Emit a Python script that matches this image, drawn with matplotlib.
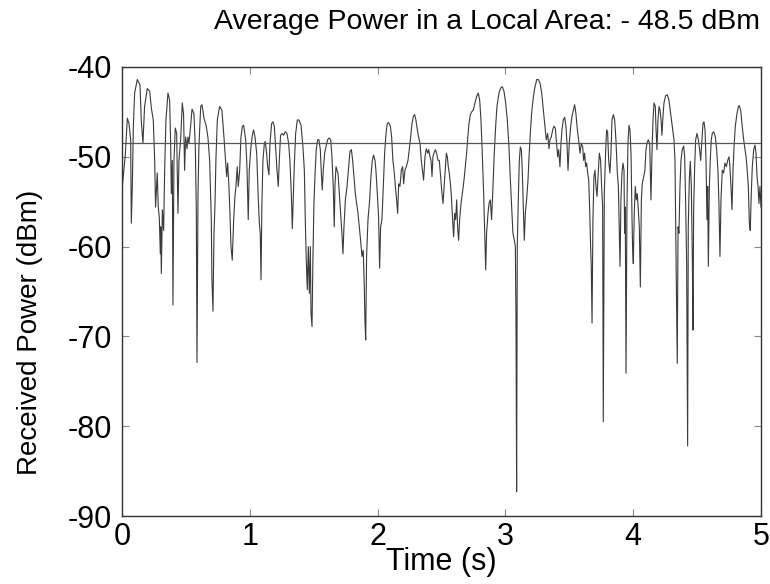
import matplotlib
matplotlib.use("Agg")
import matplotlib.pyplot as plt

# readings: time (s) and received power (dBm)
time_s = [
    0.000, 0.026, 0.042, 0.055, 0.068, 0.073, 0.081, 0.089, 0.099, 0.120,
    0.141, 0.151, 0.164, 0.177, 0.198, 0.217, 0.230, 0.245, 0.256, 0.263,
    0.276, 0.284, 0.292, 0.300, 0.303, 0.308, 0.316, 0.326, 0.334, 0.344,
    0.360, 0.373, 0.381, 0.386, 0.394, 0.399, 0.407, 0.417, 0.428, 0.438,
    0.446, 0.459, 0.472, 0.482, 0.490, 0.498, 0.509, 0.516, 0.524, 0.537,
    0.548, 0.563, 0.574, 0.582, 0.587, 0.595, 0.602, 0.616, 0.626, 0.642,
    0.660, 0.673, 0.686, 0.699, 0.704, 0.712, 0.720, 0.728, 0.735, 0.746,
    0.764, 0.782, 0.798, 0.819, 0.827, 0.837, 0.845, 0.853, 0.863, 0.874,
    0.884, 0.892, 0.902, 0.910, 0.921, 0.931, 0.942, 0.952, 0.968, 0.978,
    0.988, 0.996, 1.009, 1.020, 1.030, 1.041, 1.054, 1.067, 1.075, 1.082,
    1.088, 1.095, 1.103, 1.114, 1.121, 1.132, 1.140, 1.150, 1.158, 1.171,
    1.181, 1.192, 1.202, 1.213, 1.223, 1.231, 1.241, 1.254, 1.265, 1.278,
    1.291, 1.304, 1.314, 1.325, 1.333, 1.341, 1.348, 1.359, 1.372, 1.385,
    1.401, 1.416, 1.427, 1.434, 1.442, 1.450, 1.458, 1.466, 1.474, 1.479,
    1.487, 1.494, 1.502, 1.510, 1.520, 1.531, 1.541, 1.552, 1.560, 1.567,
    1.575, 1.586, 1.596, 1.609, 1.622, 1.633, 1.643, 1.654, 1.661, 1.667,
    1.675, 1.682, 1.690, 1.701, 1.711, 1.721, 1.729, 1.737, 1.748, 1.761,
    1.774, 1.784, 1.795, 1.805, 1.815, 1.826, 1.836, 1.847, 1.857, 1.867,
    1.878, 1.888, 1.896, 1.901, 1.907, 1.914, 1.925, 1.938, 1.948, 1.959,
    1.969, 1.980, 1.987, 1.998, 2.008, 2.016, 2.024, 2.034, 2.045, 2.055,
    2.066, 2.076, 2.087, 2.100, 2.110, 2.120, 2.131, 2.139, 2.149, 2.157,
    2.165, 2.175, 2.186, 2.196, 2.204, 2.214, 2.225, 2.238, 2.248, 2.259,
    2.269, 2.280, 2.290, 2.300, 2.311, 2.321, 2.332, 2.342, 2.353, 2.360,
    2.371, 2.381, 2.392, 2.400, 2.410, 2.418, 2.426, 2.433, 2.441, 2.452,
    2.462, 2.473, 2.483, 2.493, 2.504, 2.512, 2.538, 2.546, 2.553, 2.561,
    2.572, 2.579, 2.587, 2.595, 2.603, 2.611, 2.619, 2.626, 2.634, 2.642,
    2.653, 2.663, 2.673, 2.684, 2.694, 2.705, 2.715, 2.726, 2.736, 2.749,
    2.762, 2.775, 2.788, 2.799, 2.809, 2.819, 2.830, 2.838, 2.846, 2.853,
    2.864, 2.872, 2.882, 2.892, 2.903, 2.913, 2.924, 2.934, 2.950, 2.965,
    2.976, 2.989, 3.002, 3.015, 3.028, 3.039, 3.049, 3.059, 3.070, 3.078,
    3.083, 3.088, 3.093, 3.101, 3.109, 3.117, 3.125, 3.132, 3.140, 3.148,
    3.156, 3.166, 3.177, 3.185, 3.195, 3.205, 3.216, 3.229, 3.245, 3.258,
    3.271, 3.284, 3.297, 3.310, 3.320, 3.331, 3.341, 3.349, 3.359, 3.370,
    3.380, 3.391, 3.401, 3.409, 3.417, 3.427, 3.435, 3.443, 3.453, 3.464,
    3.474, 3.482, 3.490, 3.500, 3.511, 3.521, 3.532, 3.542, 3.552, 3.563,
    3.573, 3.584, 3.594, 3.605, 3.612, 3.620, 3.628, 3.636, 3.644, 3.652,
    3.659, 3.667, 3.672, 3.678, 3.685, 3.693, 3.701, 3.709, 3.717, 3.725,
    3.735, 3.745, 3.753, 3.761, 3.766, 3.774, 3.785, 3.792, 3.800, 3.808,
    3.818, 3.826, 3.834, 3.845, 3.855, 3.865, 3.876, 3.884, 3.891, 3.897,
    3.904, 3.912, 3.920, 3.928, 3.933, 3.938, 3.944, 3.951, 3.959, 3.967,
    3.975, 3.983, 3.991, 3.996, 4.001, 4.009, 4.017, 4.024, 4.032, 4.040,
    4.048, 4.056, 4.064, 4.071, 4.082, 4.092, 4.100, 4.108, 4.118, 4.129,
    4.139, 4.147, 4.155, 4.163, 4.173, 4.178, 4.186, 4.194, 4.202, 4.210,
    4.218, 4.225, 4.233, 4.241, 4.254, 4.267, 4.280, 4.293, 4.306, 4.319,
    4.327, 4.332, 4.337, 4.345, 4.351, 4.358, 4.366, 4.374, 4.384, 4.395,
    4.403, 4.410, 4.418, 4.426, 4.431, 4.439, 4.447, 4.455, 4.463, 4.468,
    4.473, 4.481, 4.489, 4.499, 4.510, 4.520, 4.528, 4.536, 4.546, 4.554,
    4.562, 4.570, 4.577, 4.583, 4.588, 4.596, 4.603, 4.611, 4.619, 4.630,
    4.643, 4.653, 4.663, 4.671, 4.679, 4.687, 4.697, 4.708, 4.718, 4.729,
    4.739, 4.750, 4.757, 4.765, 4.773, 4.781, 4.789, 4.799, 4.812, 4.823,
    4.830, 4.841, 4.851, 4.862, 4.872, 4.883, 4.890, 4.901, 4.909, 4.916,
    4.924, 4.932, 4.943, 4.953, 4.961, 4.969, 4.977, 4.984, 4.992, 5.000,
]
power_dbm = [
    -53.7, -49.8, -45.7, -46.3, -48.1, -57.4, -53.3, -46.6, -42.9, -41.4,
    -42.0, -45.9, -48.5, -44.4, -42.4, -42.7, -44.6, -45.9, -50.4, -55.6,
    -51.8, -55.6, -56.7, -60.8, -57.8, -63.0, -55.9, -58.2, -51.5, -45.9,
    -42.9, -43.7, -48.5, -54.1, -50.4, -66.5, -50.4, -46.8, -47.4, -56.3,
    -50.4, -48.1, -44.0, -45.3, -51.5, -47.8, -49.1, -47.8, -48.5, -46.6,
    -44.7, -45.2, -48.9, -56.3, -72.9, -54.1, -48.9, -44.4, -44.2, -45.7,
    -46.6, -47.9, -50.4, -57.0, -63.7, -67.2, -58.5, -55.2, -50.4, -45.9,
    -44.4, -44.8, -47.8, -52.2, -50.7, -53.3, -56.3, -60.0, -61.5, -57.0,
    -54.4, -53.3, -51.1, -53.3, -51.5, -47.8, -46.6, -46.5, -48.1, -51.1,
    -57.0, -51.5, -48.9, -47.6, -47.0, -47.8, -49.6, -54.8, -57.4, -58.5,
    -63.7, -55.2, -50.4, -48.5, -48.3, -49.6, -51.1, -52.0, -48.5, -46.3,
    -46.1, -46.6, -48.9, -51.5, -53.3, -50.4, -47.6, -47.4, -47.6, -47.2,
    -47.4, -48.5, -50.4, -54.1, -58.0, -54.1, -51.1, -47.4, -45.9, -45.9,
    -46.5, -48.9, -51.5, -56.7, -61.5, -64.8, -60.0, -65.2, -60.0, -67.4,
    -68.9, -61.5, -55.2, -52.2, -49.2, -48.1, -48.1, -49.2, -51.8, -53.7,
    -51.5, -49.6, -48.9, -48.1, -47.9, -48.1, -50.0, -53.7, -57.8, -53.0,
    -51.1, -51.5, -51.8, -54.1, -56.3, -58.5, -60.8, -57.8, -54.8, -53.3,
    -51.1, -49.4, -49.2, -50.4, -52.2, -54.1, -55.2, -56.3, -57.8, -59.3,
    -61.1, -60.4, -64.5, -68.2, -70.4, -61.1, -57.0, -54.8, -52.2, -50.4,
    -49.8, -50.4, -51.5, -54.1, -56.7, -62.4, -57.8, -57.0, -53.3, -49.6,
    -47.4, -46.3, -46.2, -46.6, -47.8, -50.4, -51.8, -53.3, -54.8, -56.3,
    -53.0, -53.3, -51.5, -51.1, -53.0, -51.5, -51.1, -50.4, -49.2, -47.8,
    -46.3, -45.5, -45.3, -45.9, -47.0, -47.8, -48.5, -50.4, -51.8, -52.6,
    -50.0, -49.1, -49.6, -49.2, -50.0, -50.4, -52.2, -50.0, -49.6, -49.2,
    -49.6, -50.4, -50.4, -52.2, -54.1, -55.2, -49.6, -50.0, -51.1, -51.8,
    -53.3, -54.8, -57.0, -58.9, -56.3, -57.0, -54.8, -57.8, -59.3, -57.0,
    -55.2, -54.1, -53.0, -51.5, -50.0, -48.1, -46.3, -45.3, -45.0, -44.8,
    -44.0, -43.3, -42.9, -43.7, -45.9, -49.6, -54.1, -58.5, -62.6, -58.5,
    -56.3, -55.2, -54.8, -57.0, -53.3, -49.6, -46.6, -44.4, -42.9, -42.3,
    -42.2, -42.7, -44.0, -45.9, -48.9, -52.6, -55.6, -58.5, -59.3, -60.0,
    -68.2, -87.3, -60.0, -54.8, -50.4, -48.9, -49.2, -51.5, -55.6, -59.3,
    -56.3, -54.8, -52.6, -50.0, -47.4, -45.2, -43.7, -42.4, -41.4, -41.4,
    -41.8, -42.9, -44.8, -46.6, -48.1, -47.4, -49.1, -48.1, -47.8, -47.0,
    -46.6, -46.8, -48.5, -50.0, -49.2, -51.1, -48.5, -47.0, -45.9, -45.6,
    -46.6, -48.5, -51.5, -48.5, -46.6, -45.5, -44.8, -44.2, -45.2, -47.0,
    -48.1, -49.6, -48.5, -48.9, -50.4, -49.6, -51.1, -50.7, -51.8, -52.6,
    -55.6, -60.0, -62.2, -68.5, -57.0, -52.2, -51.5, -53.3, -54.4, -52.2,
    -49.6, -50.4, -53.3, -55.6, -79.5, -54.1, -49.2, -47.0, -47.2, -50.4,
    -51.8, -49.6, -45.9, -45.3, -45.9, -48.1, -51.8, -53.3, -57.8, -62.2,
    -54.8, -51.8, -50.7, -51.5, -58.5, -55.6, -74.1, -55.9, -48.5, -46.5,
    -47.0, -49.6, -57.0, -60.4, -61.9, -55.9, -53.3, -54.8, -54.1, -55.9,
    -57.8, -64.5, -54.8, -53.0, -52.2, -51.5, -49.2, -48.5, -48.1, -48.5,
    -54.8, -49.6, -45.9, -44.0, -44.4, -46.6, -49.2, -45.9, -44.4, -44.8,
    -45.9, -47.6, -45.5, -44.0, -43.2, -43.1, -43.7, -45.2, -46.6, -48.1,
    -50.4, -57.0, -63.3, -73.0, -57.8, -58.5, -53.3, -50.4, -49.2, -48.8,
    -50.0, -54.8, -61.5, -82.2, -57.8, -52.6, -50.5, -53.3, -61.5, -69.3,
    -55.9, -51.1, -48.1, -47.4, -48.1, -49.2, -50.4, -48.5, -46.3, -46.1,
    -47.0, -50.4, -57.0, -53.3, -62.2, -53.3, -50.4, -48.1, -47.4, -47.2,
    -47.8, -49.2, -51.5, -55.2, -61.1, -54.8, -51.5, -51.8, -50.7, -51.1,
    -50.4, -50.0, -51.1, -53.3, -55.9, -51.5, -48.9, -46.6, -45.2, -44.4,
    -44.3, -44.8, -46.3, -47.8, -48.9, -50.0, -51.1, -53.3, -57.4, -58.2,
    -54.1, -51.1, -49.2, -48.7, -49.6, -52.2, -53.3, -55.2, -53.3, -55.6,
]
local_mean_dbm = -48.5

x_ticks = [0, 1, 2, 3, 4, 5]
y_ticks = [-90, -80, -70, -60, -50, -40]

plt.rcParams["font.family"] = ["Liberation Sans", "DejaVu Sans"]
plt.rcParams["axes.unicode_minus"] = False

fig = plt.figure(figsize=(7.7, 5.84), dpi=100)
ax = fig.add_axes([0.1584, 0.1164, 0.8299, 0.7689])

ax.plot(time_s, power_dbm, color="#3a3a3a", linewidth=0.8)
ax.axhline(local_mean_dbm, color="#555555", linewidth=0.9)

ax.set_xlim(0, 5)
ax.set_ylim(-90, -40)
ax.set_xticks(x_ticks)
ax.set_yticks(y_ticks)
ax.tick_params(direction="in", length=5, width=0.8, colors="#888888",
               labelcolor="black", labelsize=22, top=True, right=True)
ax.tick_params(axis="y", pad=7)
ax.tick_params(axis="x", pad=4)
for s in ax.spines.values():
    s.set_color("#333333")
    s.set_linewidth(1.0)

ax.set_xlabel("Time (s)", fontsize=22, va="top")
ax.xaxis.set_label_coords(0.5, -0.07)
ax.set_ylabel("Received Power (dBm)", fontsize=20, va="center")
ax.yaxis.set_label_coords(-0.144, 0.408)

fig.text(0.633, 0.962, "Average Power in a Local Area: - 48.5 dBm",
         ha="center", va="center", fontsize=20.5)

fig.savefig("out.png", dpi=100)
